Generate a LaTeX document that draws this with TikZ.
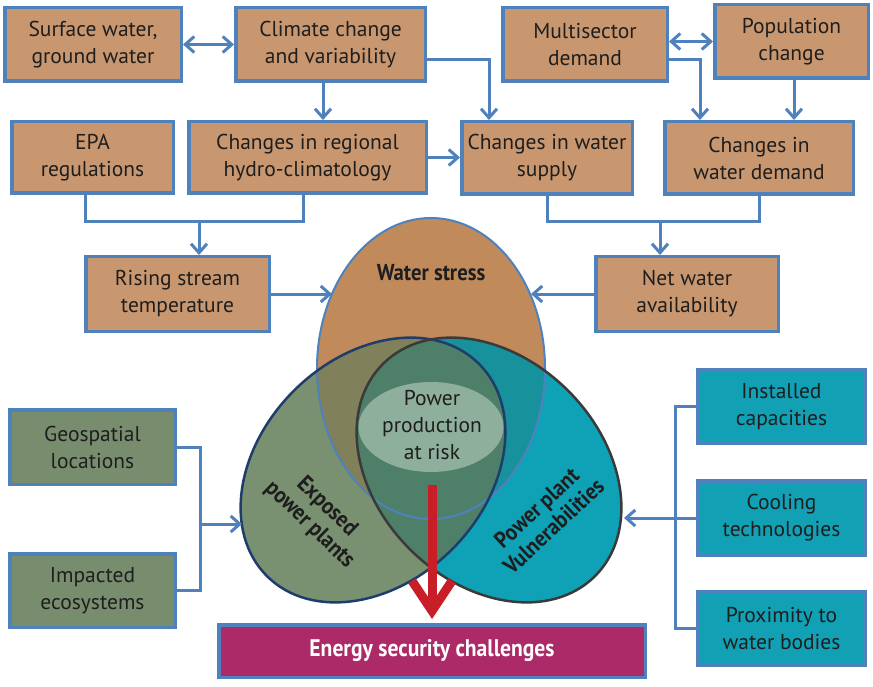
\documentclass[tikz,border=0pt]{standalone}
\usepackage{fontspec}
\setmainfont{PT Sans}
\newfontfamily\condfont[FakeStretch=0.9]{PT Sans}
\usepackage{xcolor}
\usetikzlibrary{positioning,calc,arrows.meta,shapes.geometric}

\definecolor{linkblue}{HTML}{4F81BD}
\definecolor{tanfill}{HTML}{C9976F}
\definecolor{greenfill}{HTML}{788D6E}
\definecolor{tealfill}{HTML}{12A0B5}
\definecolor{escfill}{HTML}{AB2A67}
\definecolor{arrowred}{HTML}{C81E28}
\definecolor{txt}{HTML}{1E1E1E}
\definecolor{wsfill}{HTML}{C18A5B}
\definecolor{epfill}{HTML}{7A9171}
\definecolor{pvfill}{HTML}{0FA1B5}
\definecolor{olivefill}{HTML}{80805A}
\definecolor{darkteal}{HTML}{17929C}
\definecolor{midgreen}{HTML}{4E8069}
\definecolor{pprfill}{HTML}{8EAF9C}
\definecolor{epline}{HTML}{1F3D6B}
\definecolor{pvline}{HTML}{3A3A3A}

\begin{document}
\begin{tikzpicture}[x=1pt, y=-1pt, >={Straight Barb[length=9pt,width=16pt]},
  font=\fontsize{21.5}{27}\selectfont, text=txt,
  box/.style={draw=linkblue, line width=3.5pt, align=center, inner sep=0pt},
  tanbox/.style={box, fill=tanfill},
  greenbox/.style={box, fill=greenfill},
  tealbox/.style={box, fill=tealfill},
  link/.style={draw=linkblue, line width=3pt},
  tag/.style={font=\condfont\bfseries\fontsize{23}{25}\selectfont, align=center},
  wsarea/.style={insert path={(431,368.5) ellipse [x radius=114pt, y radius=150.5pt]}},
  eparea/.style={rotate around={45:(373,470)}, insert path={(373,470) ellipse [x radius=150pt, y radius=112pt]}},
  pvarea/.style={rotate around={-45:(489,470)}, insert path={(489,470) ellipse [x radius=150pt, y radius=112pt]}},
  redarrow/.style={draw=arrowred, line width=9pt, -{Straight Barb[length=30pt, width=40pt, line width=9pt]}}]

  \path[use as bounding box, fill=white] (0,0) rectangle (873,687);

  % drivers
  \node[tanbox, minimum width=176.5pt, minimum height=73.5pt] (surf) at (93,44.5) {Surface water,\\ground water};
  \node[tanbox, minimum width=189.5pt, minimum height=73.5pt] (clim) at (330.5,44.5) {Climate change\\and variability};
  \node[tanbox, minimum width=164.5pt, minimum height=73.5pt] (multi) at (585,44.5) {Multisector\\demand};
  \node[tanbox, minimum width=153.5pt, minimum height=73.5pt] (popu) at (791.5,41.5) {Population\\change};
  \node[tanbox, minimum width=161.5pt, minimum height=71.5pt] (epa) at (92.5,157.5) {EPA\\regulations};
  \node[tanbox, minimum width=237.5pt, minimum height=71.5pt] (hydro) at (307.5,157.5) {Changes in regional\\hydro-climatology};
  \node[tanbox, minimum width=170.5pt, minimum height=72.5pt] (supply) at (547,158) {Changes in water\\supply};
  \node[tanbox, minimum width=188.5pt, minimum height=72.5pt] (demand) at (759,158) {Changes in\\water demand};
  \node[tanbox, minimum width=183.5pt, minimum height=74.5pt] (rising) at (177.5,294) {Rising stream\\temperature};
  \node[tanbox, minimum width=182.5pt, minimum height=74.5pt] (netw) at (687,294) {Net water\\availability};

  % exposure and vulnerability factors
  \node[greenbox, minimum width=165.5pt, minimum height=74.5pt] (geo) at (92.5,447) {Geospatial\\locations};
  \node[greenbox, minimum width=165.5pt, minimum height=73.5pt] (eco) at (92.5,590.5) {Impacted\\ecosystems};
  \node[tealbox, minimum width=167.5pt, minimum height=73.5pt] (inst) at (781.5,406.5) {Installed\\capacities};
  \node[tealbox, minimum width=167.5pt, minimum height=74.5pt] (cool) at (781.5,518) {Cooling\\technologies};
  \node[tealbox, minimum width=167.5pt, minimum height=73.5pt] (prox) at (781.5,628.5) {Proximity to\\water bodies};
  \node[box, fill=escfill, minimum width=426.5pt, minimum height=52.5pt, text=white,
        font=\condfont\bfseries\fontsize{24}{26}\selectfont] (esc) at (432,651) {Energy security challenges};

  % venn
  \fill[epfill, eparea];
  \fill[pvfill, pvarea];
  \fill[wsfill, wsarea];
  \begin{scope}
    \clip[wsarea];
    \fill[olivefill, eparea];
    \fill[darkteal, pvarea];
  \end{scope}
  \begin{scope}
    \clip[eparea];
    \fill[midgreen, pvarea];
  \end{scope}
  \fill[pprfill] (431,427) ellipse [x radius=72.5pt, y radius=45pt];
  \draw[linkblue, line width=2pt, wsarea];
  \draw[epline, line width=2.5pt, eparea];
  \draw[pvline, line width=2.5pt, pvarea];

  \node[tag] (wslabel) at (431,273) {Water stress};
  \node[tag, rotate=-44] (eplabel) at (318,516) {Exposed\\power plants};
  \node[tag, rotate=43] (pvlabel) at (545,517) {Power plant\\Vulnerabilities};
  \node[align=center] (ppr) at (432,425) {Power\\production\\at risk};

  % connectors
  \coordinate (jl) at (199,222);
  \coordinate (jr) at (660,222);
  \coordinate (wsl) at (332,294);
  \coordinate (wsr) at (531,294);
  \coordinate (jg) at (200,524);
  \coordinate (epl) at (242,524);
  \coordinate (jp) at (675,518);
  \coordinate (pvr) at (624,518);
  \coordinate (rtop) at (432,485);

  \draw[link, <->] (surf.east) -- (clim.west);
  \draw[link, <->] ([yshift=3pt]multi.east) -- ([yshift=3pt]multi.east -| popu.west);
  \draw[link, ->] ([xshift=-7.5pt]clim.south) -- ([xshift=-7.5pt]clim.south |- hydro.north);
  \draw[link, ->] ([yshift=-15.5pt]clim.east) -| ([xshift=-58pt]supply.north);
  \draw[link, ->] (hydro.east) -- (hydro.east -| supply.west);
  \draw[link, ->] ([yshift=-15.5pt]multi.east) -| ([xshift=-59pt]demand.north);
  \draw[link, ->] ([xshift=2.5pt]popu.south) -- ([xshift=2.5pt]popu.south |- demand.north);

  \draw[link] ([xshift=-7.5pt]epa.south) |- (jl) -| ([xshift=-4.5pt]hydro.south);
  \draw[link, ->] (jl) -- (jl |- rising.north);
  \draw[link] (supply.south) |- (jr) -| (demand.south);
  \draw[link, ->] (jr) -- (jr |- netw.north);
  \draw[link, ->] (rising.east) -- (wsl);
  \draw[link, ->] (netw.west) -- (wsr);

  \draw[link] (geo.east) -| (jg);
  \draw[link] (eco.east) -| (jg);
  \draw[link, ->] (jg) -- (epl);
  \draw[link] (inst.west) -| (jp);
  \draw[link] (prox.west) -| (jp);
  \draw[link, ->] (cool.west) -- (pvr);

  \draw[redarrow, shorten >=4pt] (rtop) -- (rtop |- esc.north);
\end{tikzpicture}
\end{document}
